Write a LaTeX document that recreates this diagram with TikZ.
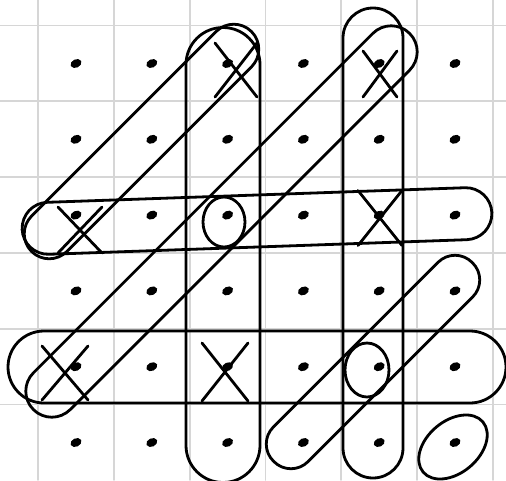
\documentclass[tikz,border=0pt]{standalone}
\usetikzlibrary{shapes.geometric, shapes.misc}
\definecolor{cgrid}{HTML}{D6D6D6}
\tikzset{
  every picture/.style={line width=2.8pt, line cap=round},
  gridline/.style={draw=cgrid, line width=1.8pt},
  dot/.style={ellipse, draw, fill, line width=2.2pt, inner sep=0pt, minimum width=9pt, minimum height=6pt, rotate=25},
  tick/.style={cross out, draw, line width=2.8pt, inner sep=0pt, outer sep=0pt},
  ring/.style={ellipse, draw, line width=2.8pt, inner sep=0pt},
  lasso/.style={rectangle, draw, line width=2.8pt, rounded corners=#1, inner sep=0pt},
  lasso/.default=25pt,
}

\begin{document}
\begin{tikzpicture}[x=1pt, y=-1pt]
  \useasboundingbox (0,0) rectangle (506,480);
  % squared paper
  \foreach \k in {0,...,6}
    \draw[gridline] ({38+75.8*\k},0) -- ({38+75.8*\k},480);
  \foreach \k in {0,...,5}
    \draw[gridline] (0,{25.5+75.8*\k}) -- (506,{25.5+75.8*\k});
  % 6x6 dots
  \foreach \r in {0,...,5}
    \foreach \c in {0,...,5}
      \node[dot] (d-\r-\c) at ({76+75.8*\c},{63.5+75.8*\r}) {};
  % crossed dots
  \node[tick, minimum width=42pt, minimum height=54pt] (x-0-2) at (236,70) {};
  \node[tick, minimum width=34pt, minimum height=46pt] (x-0-4) at (380,74) {};
  \node[tick, minimum width=44pt, minimum height=46pt] (x-2-0) at (80,230) {};
  \node[tick, minimum width=44pt, minimum height=55pt] (x-2-4) at (380,218) {};
  \node[tick, minimum width=46pt, minimum height=54pt] (x-4-0) at (65,373) {};
  \node[tick, minimum width=46pt, minimum height=58pt] (x-4-2) at (225,372) {};
  % circled dots
  \node[ring, minimum width=42pt, minimum height=50pt] (o-2-2) at (224,222) {};
  \node[ring, minimum width=44pt, minimum height=54pt] (o-4-4) at (367,370) {};
  \node[ring, minimum width=78pt, minimum height=52pt, rotate=40] (o-5-5) at (453,447) {};
  % loops round the lines
  \node[lasso=37pt, minimum width=74pt, minimum height=455pt] (col-2) at (223,255) {};
  \node[lasso=30pt, minimum width=60pt, minimum height=470pt] (col-4) at (373,243) {};
  \node[lasso=26pt, minimum width=470pt, minimum height=52pt, rotate=2] (row-2) at (257,221) {};
  \node[lasso=36pt, minimum width=498pt, minimum height=72pt] (row-4) at (257,367) {};
  \node[lasso=25pt, minimum width=311pt, minimum height=50pt, rotate=45] (diag-a) at (141.5,141.5) {};
  \node[lasso=26pt, minimum width=532pt, minimum height=52pt, rotate=45] (diag-b) at (221.5,221.5) {};
  \node[lasso=24pt, minimum width=281pt, minimum height=49pt, rotate=45] (diag-c) at (373,362) {};
\end{tikzpicture}
\end{document}
